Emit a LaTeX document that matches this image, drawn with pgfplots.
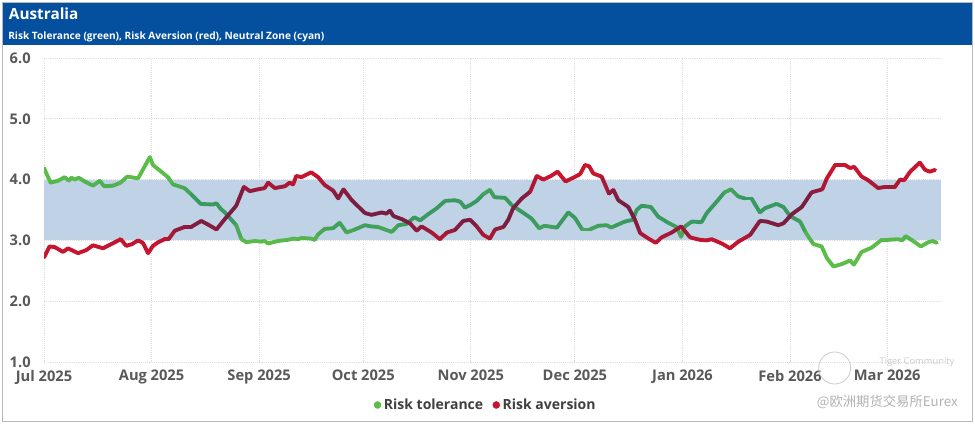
\documentclass[border=0pt]{standalone}
\usepackage{pgfplots}
\pgfplotsset{compat=1.18}
\usepackage{pgfplotstable}
\usepackage{fontspec}
\setmainfont{Open Sans}
\newfontfamily\cjk{Noto Sans CJK SC}
\definecolor{hdr}{RGB}{4,80,158}
\definecolor{bandcol}{RGB}{192,211,230}
\definecolor{gbright}{RGB}{92,190,72}
\definecolor{gdark}{RGB}{58,153,96}
\definecolor{rbright}{RGB}{200,20,45}
\definecolor{rdark}{RGB}{122,30,65}
\definecolor{ticktext}{RGB}{89,89,89}
\pgfplotsset{
  colormap={gmap}{color(0)=(gbright) color(45)=(gbright) color(80)=(gdark) color(120)=(gdark) color(155)=(gbright) color(200)=(gbright)},
  colormap={rmap}{color(0)=(rbright) color(45)=(rbright) color(80)=(rdark) color(120)=(rdark) color(155)=(rbright) color(200)=(rbright)}
}

\pgfplotstableread{
d v
0.0 4.19
1.9 3.95
4.0 3.98
6.0 4.04
7.1 3.98
7.9 4.03
8.9 4.00
10.0 4.03
11.7 3.97
14.1 3.90
16.1 3.98
17.3 3.89
19.9 3.90
22.1 3.95
24.0 4.05
27.1 4.02
30.5 4.37
31.4 4.24
33.8 4.13
35.7 4.04
37.2 3.92
40.5 3.86
42.4 3.76
45.2 3.60
48.7 3.59
49.7 3.61
50.9 3.52
52.1 3.46
54.0 3.34
55.4 3.25
56.9 3.02
58.3 2.97
60.7 2.99
62.6 2.98
63.6 2.99
64.6 2.95
67.4 2.99
70.3 3.01
72.0 3.03
73.2 3.02
74.2 3.04
77.0 3.03
78.0 3.01
79.0 3.10
80.9 3.19
83.3 3.20
85.2 3.29
87.2 3.13
89.6 3.18
92.5 3.25
94.2 3.23
96.3 3.22
100.2 3.14
102.1 3.25
104.5 3.27
106.7 3.38
108.4 3.33
110.7 3.43
113.2 3.53
115.6 3.65
118.4 3.66
119.9 3.64
121.3 3.54
122.8 3.58
124.7 3.65
126.6 3.76
128.5 3.83
129.8 3.71
132.9 3.70
134.8 3.58
137.7 3.47
140.5 3.36
142.7 3.20
144.2 3.24
147.8 3.21
151.1 3.46
153.0 3.37
155.1 3.18
157.3 3.18
159.7 3.24
162.2 3.25
163.4 3.21
164.6 3.24
167.4 3.31
169.7 3.34
170.8 3.50
172.2 3.57
174.9 3.55
177.0 3.39
179.9 3.29
182.3 3.22
183.6 3.06
184.7 3.23
186.7 3.31
189.5 3.30
191.0 3.45
193.9 3.64
196.1 3.79
198.0 3.84
200.1 3.72
202.0 3.69
203.9 3.69
206.3 3.46
207.8 3.53
211.1 3.60
213.1 3.55
215.0 3.40
217.9 3.31
219.5 3.13
221.7 2.94
224.1 2.90
225.6 2.71
227.5 2.57
229.9 2.61
232.3 2.67
233.4 2.60
235.6 2.81
238.5 2.88
241.4 3.01
243.2 3.01
246.2 3.02
247.3 3.00
248.3 3.07
250.5 2.99
252.7 2.90
254.8 2.97
256.1 2.99
257.3 2.96
}\greendata

\pgfplotstableread{
d v
0.0 2.72
1.6 2.90
3.1 2.89
5.5 2.81
6.9 2.87
9.8 2.79
12.2 2.84
14.1 2.92
17.0 2.87
19.4 2.94
22.1 3.02
23.7 2.91
25.4 2.94
27.1 3.00
28.5 2.96
30.0 2.79
31.4 2.91
32.9 2.97
34.8 3.02
35.9 3.02
37.7 3.16
40.5 3.22
42.4 3.22
45.3 3.32
47.3 3.26
49.7 3.18
52.1 3.35
55.4 3.57
57.6 3.88
59.3 3.81
61.7 3.84
63.6 3.86
64.6 3.95
66.5 3.86
69.4 3.89
70.8 3.95
71.8 3.92
72.7 4.06
74.2 4.04
77.0 4.12
79.0 4.04
80.9 3.91
83.3 3.82
84.8 3.69
86.3 3.84
88.7 3.66
92.5 3.45
94.4 3.42
97.3 3.46
98.7 3.44
99.7 3.49
100.7 3.40
103.1 3.35
105.5 3.28
107.4 3.16
108.8 3.23
111.7 3.13
114.1 3.02
116.1 3.13
118.4 3.17
120.8 3.32
122.8 3.34
124.7 3.23
126.6 3.09
128.5 3.03
130.0 3.18
132.4 3.22
133.8 3.34
135.2 3.53
137.7 3.69
140.1 3.80
142.0 4.06
143.9 4.00
146.1 4.06
148.0 4.13
150.3 3.97
152.5 4.03
154.5 4.09
155.9 4.24
157.1 4.22
158.3 4.10
160.7 4.05
162.8 3.77
164.1 3.83
165.5 3.66
168.4 3.55
170.3 3.34
171.8 3.12
174.2 3.03
176.3 2.96
178.0 3.05
180.9 3.13
183.6 3.23
186.2 3.05
189.0 3.01
191.0 3.00
192.4 3.02
195.3 2.95
197.7 2.87
200.1 2.98
203.5 3.09
206.3 3.32
208.3 3.31
211.6 3.25
213.1 3.28
215.5 3.43
218.4 3.55
221.2 3.79
224.3 3.84
225.6 4.02
228.0 4.24
230.8 4.24
232.3 4.19
233.5 4.21
235.6 4.05
237.5 3.99
240.4 3.86
242.4 3.88
245.2 3.88
246.7 4.00
247.9 3.99
249.6 4.13
252.4 4.28
253.9 4.16
255.3 4.13
256.8 4.16
}\reddata

\begin{document}
\begin{tikzpicture}
\useasboundingbox (0pt,0pt) rectangle (731.25pt,318pt);
\fill[white] (0pt,0pt) rectangle (731.25pt,318pt);
\begin{axis}[
  at={(33pt,46.5pt)}, anchor=south west,
  scale only axis, width=672.75pt, height=228pt,
  xmin=0, xmax=258.5, ymin=1, ymax=6,
  xtick={0,31,62,92,123,153,184,215,243},
  xticklabels={Jul 2025,Aug 2025,Sep 2025,Oct 2025,Nov 2025,Dec 2025,Jan 2026,Feb 2026,Mar 2026},
  ytick={1,2,3,4,5,6},
  yticklabel={\pgfmathprintnumber[fixed,fixed zerofill,precision=1]{\tick}},
  /pgf/number format/assume math mode=true,
  ticklabel style={font=\bfseries\fontsize{11}{13}\selectfont, text=ticktext},
  yticklabel style={xshift=-6.5pt},
  xticklabel style={yshift=-2.5pt},
  axis line style={draw=none},
  tick style={draw=none},
  xmajorgrids, ymajorgrids,
  grid style={densely dotted, gray!25, line width=0.7pt},
  point meta min=2.5, point meta max=4.5,
  legend style={at={(0.4928,-0.1414)}, anchor=center, draw=none, fill=none,
    legend columns=2, font=\bfseries\fontsize{10.5}{12}\selectfont, text=black!75,
    /tikz/every even column/.append style={column sep=5pt}},
  legend image code/.code={\fill[#1] (0.12cm,0pt) circle (2.6pt);},
]
\addplot[draw=none, fill=bandcol, forget plot] coordinates {(0,3) (258.5,3) (258.5,4) (0,4)} -- cycle;
\addplot[mesh, colormap name=gmap, point meta=y, line width=2.9pt, line cap=round, line join=round, forget plot] table[x=d, y=v] {\greendata};
\addplot[mesh, colormap name=rmap, point meta=y, line width=2.9pt, line cap=round, line join=round, forget plot] table[x=d, y=v] {\reddata};
\addlegendimage{draw=gbright, fill=gbright}
\addlegendentry{Risk tolerance}
\addlegendimage{draw=rbright, fill=rbright}
\addlegendentry{Risk aversion}
\end{axis}
% header
\fill[hdr] (2.25pt,284.25pt) rectangle (729pt,315.75pt);
\node[anchor=west, inner sep=0pt, text=white, font=\bfseries\fontsize{11.5}{13}\selectfont] at (6.5pt,307.5pt) {Australia};
\node[anchor=west, inner sep=0pt, text=white, font=\bfseries\fontsize{7.6}{9}\selectfont] at (6pt,290.3pt) {Risk Tolerance (green), Risk Aversion (red), Neutral Zone (cyan)};
\draw[gray!55, line width=0.8pt] (1.8pt,1.8pt) rectangle (729.3pt,316.2pt);
% watermark
\draw[gray!40, line width=0.6pt] (626pt,42pt) circle (12pt);
\node[anchor=east, inner sep=0pt, text=gray!40, font=\fontsize{7}{8}\selectfont] at (716pt,46pt) {Tiger Community};
\node[anchor=east, inner sep=0pt, text=gray!60, font=\cjk\fontsize{10}{12}\selectfont] at (718.5pt,16.5pt) {@欧洲期货交易所Eurex};
\end{tikzpicture}
\end{document}
